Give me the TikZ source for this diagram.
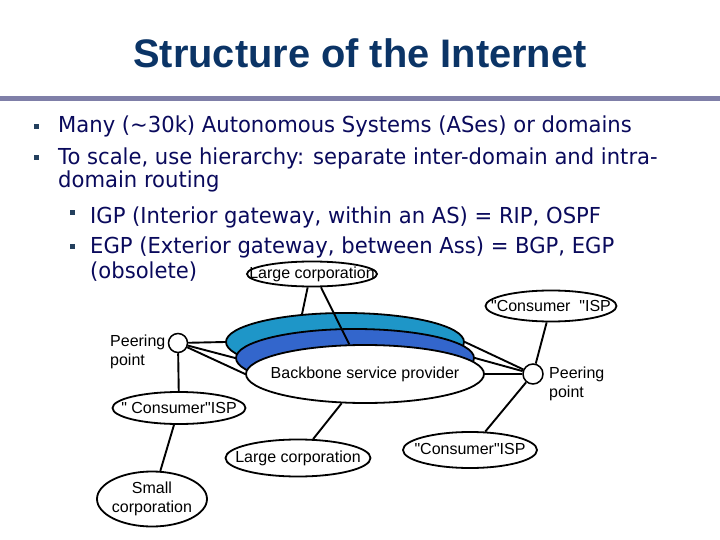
\documentclass[tikz,border=0pt]{standalone}
\usepackage{fontspec}
\setmainfont{Liberation Sans}
\newfontfamily\bodyfont[FakeStretch=0.96]{DejaVu Sans}
\newfontfamily\titlefont{Liberation Sans}
\usetikzlibrary{shapes.geometric}
\definecolor{titleblue}{HTML}{0B3466}
\definecolor{bodyblue}{HTML}{0A0A5C}
\definecolor{rulegray}{HTML}{7F7FA8}
\definecolor{bandcyan}{HTML}{1E96C8}
\definecolor{bandblue}{HTML}{3366CC}
\definecolor{bulletc}{HTML}{24405E}
\newcommand{\qd}{\textquotedbl}
\begin{document}
\begin{tikzpicture}[x=1pt,y=-1pt,
  lbl/.style={inner sep=0pt, font=\fontsize{16}{19}\selectfont},
  oval/.style={ellipse, draw, line width=1.8pt, fill=white, inner sep=0pt},
  band/.style={ellipse, draw, line width=1.8pt, inner sep=0pt, minimum width=238pt, minimum height=58pt},
  ppoint/.style={circle, draw, line width=1.5pt, fill=white, inner sep=0pt, minimum size=19pt},
  link/.style={line width=1.9pt},
  body/.style={anchor=base west, inner sep=0pt, text=bodyblue, font=\bodyfont\fontsize{22}{24}\selectfont},
  bul/.style={fill=bulletc},
]
\useasboundingbox (0,0) rectangle (720,540);
\fill[white] (0,0) rectangle (720,540);
% title
\node[anchor=base, inner sep=0pt, text=titleblue, font=\titlefont\bfseries\fontsize{39.8}{44}\selectfont] (title) at (360,68) {Structure of the Internet};
\fill[rulegray] (0,96) rectangle (720,101);
% bullets
\fill[bul] (34,124) rectangle (39,129);
\fill[bul] (34,155) rectangle (39,160);
\fill[bul] (70,210) rectangle (75,215);
\fill[bul] (70,244) rectangle (75,249);
\node[body] (t1) at (58,133) {Many (\textasciitilde30k) Autonomous Systems (ASes) or domains};
\node[body] (t2) at (58,165) {To scale, use hierarchy: separate inter-domain and intra-};
\node[body] (t3) at (58,188) {domain routing};
\node[body] (t4) at (90,223) {IGP (Interior gateway, within an AS) = RIP, OSPF};
\node[body] (t5) at (90,253) {EGP (Exterior gateway, between Ass) = BGP, EGP};
\node[body] (t6) at (90,278) {(obsolete)};
% backbone bands
\node[band, fill=bandcyan] (cyan) at (345,342) {};
\node[band, fill=bandblue] (blue) at (355,358) {};
\node[band, fill=white] (bb) at (365,374) {};
\node[lbl] (bbt) at (bb) {Backbone service provider};
% other ovals
\node[oval, minimum width=130pt, minimum height=25pt] (lc1) at (312,274) {};
\node[lbl] (lc1t) at (lc1) {Large corporation};
\node[oval, minimum width=131pt, minimum height=31pt] (cisp1) at (551,306) {};
\node[lbl] (cisp1t) at (cisp1) {\qd Consumer\ \ \qd ISP};
\node[oval, minimum width=133pt, minimum height=32pt] (cisp2) at (179,408) {};
\node[lbl] (cisp2t) at (cisp2) {\qd\ Consumer\qd ISP};
\node[oval, minimum width=145pt, minimum height=37pt] (lc2) at (298,458) {};
\node[lbl] (lc2t) at (lc2) {Large corporation};
\node[oval, minimum width=134pt, minimum height=36pt] (cisp3) at (470,450) {};
\node[lbl] (cisp3t) at ([yshift=1pt]cisp3) {\qd Consumer\qd ISP};
\node[oval, minimum width=110pt, minimum height=55pt] (sc) at (152,499) {};
\node[lbl, align=center] (sct) at (sc) {Small\\corporation};
% peering points
\node[ppoint] (ppl) at (178,343) {};
\node[lbl, align=left, anchor=west] (pplt) at (110,352) {Peering\\point};
\node[ppoint, minimum size=20pt] (ppr) at (533,374) {};
\node[lbl, align=left, anchor=west] (pprt) at (549,384) {Peering\\point};
% links
\draw[link] (lc1.252) -- (cyan.147);
\draw[link] (lc1.304) -- (bb.118);
\draw[link] (ppl) -- (cyan.west);
\draw[link] (ppl) -- (blue.west);
\draw[link] (ppl) -- (bb.west);
\draw[link] (ppl) -- (cisp2);
\draw[link] (ppr) -- (cyan.east);
\draw[link] (ppr) -- (blue.east);
\draw[link] (ppr) -- (bb.east);
\draw[link] (ppr) -- (cisp1);
\draw[link] (ppr) -- (cisp3);
\draw[link] (bb) -- (lc2);
\draw[link] (cisp2) -- (sc);
\end{tikzpicture}
\end{document}
